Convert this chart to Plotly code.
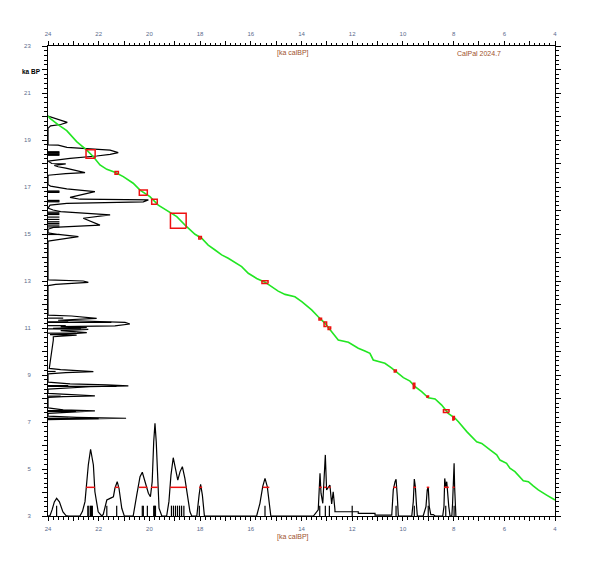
import plotly.graph_objects as go

# ---------------- data (ka) ----------------
# calibration curve: cal BP (x) vs 14C BP (y)
curve_cal = [24.00, 23.92, 23.59, 23.26, 22.87, 22.47, 22.21, 21.95, 21.68, 21.36, 21.03, 20.64,
             20.37, 19.98, 19.65, 19.32, 18.92, 18.53, 18.20, 17.94, 17.68, 17.41, 17.15, 16.89,
             16.62, 16.36, 16.10, 15.77, 15.44, 15.18, 14.92, 14.65, 14.26, 13.99, 13.60, 13.34,
             13.07, 12.81, 12.55, 12.15, 11.76, 11.50, 11.30, 11.17, 10.97, 10.71, 10.44, 10.18,
             9.98, 9.72, 9.52, 9.26, 9.00, 8.73, 8.47, 8.21, 7.94, 7.81, 7.48, 7.09, 6.89, 6.56,
             6.30, 6.17, 5.91, 5.78, 5.58, 5.25, 5.05, 4.86, 4.66, 4.33, 4.00]
curve_c14 = [20.02, 19.92, 19.64, 19.40, 18.93, 18.57, 18.29, 17.94, 17.75, 17.63, 17.44, 17.16,
             16.87, 16.59, 16.23, 16.02, 15.74, 15.31, 14.99, 14.82, 14.53, 14.32, 14.11, 13.97,
             13.80, 13.61, 13.33, 13.11, 12.95, 12.76, 12.57, 12.43, 12.33, 12.12, 11.77, 11.48,
             11.20, 10.84, 10.49, 10.39, 10.14, 10.02, 9.92, 9.64, 9.57, 9.50, 9.29, 9.07,
             8.89, 8.74, 8.50, 8.29, 8.03, 7.98, 7.72, 7.37, 7.16, 7.01, 6.59, 6.16, 6.09, 5.81,
             5.60, 5.38, 5.24, 5.03, 4.89, 4.50, 4.46, 4.28, 4.11, 3.89, 3.68]

# dated samples: cal centre, 14C centre, cal half-range, 14C half-range
date_cal = [22.32, 21.29, 20.24, 19.80, 18.86, 18.00, 15.44, 13.26, 13.06, 12.90, 10.30, 9.56, 9.02, 8.29, 8.00]
date_c14 = [18.40, 17.60, 16.76, 16.37, 15.56, 14.84, 12.95, 11.38, 11.16, 10.99, 9.17, 8.54, 8.08, 7.46, 7.16]
date_dcal = [0.18, 0.066, 0.158, 0.11, 0.31, 0.05, 0.12, 0.05, 0.05, 0.05, 0.04, 0.03, 0.03, 0.11, 0.03]
date_dc14 = [0.18, 0.055, 0.113, 0.106, 0.32, 0.05, 0.06, 0.04, 0.10, 0.05, 0.04, 0.11, 0.03, 0.06, 0.07]

# 14C probability sum (left side), drawn from the x=24 baseline
c14sum_x = [24.0, 23.7, 23.24, 23.5, 23.9, 24.0, 24.0, 23.6, 23.25, 21.55, 21.23, 21.55, 22.08, 23.13,
            23.8, 24.0, 23.85, 23.3, 23.75, 23.6, 23.3, 22.54, 23.3, 24.0, 24.0, 23.9, 23.26, 22.15,
            23.13, 22.74, 20.04, 20.24, 23.26, 23.92, 24.0, 23.8, 23.5, 21.55, 22.61, 21.95, 23.79,
            24.0, 24.0, 23.6, 22.80, 23.7, 24.0, 24.0, 22.61, 22.41, 23.7, 24.0, 24.0, 23.07, 22.08,
            23.6, 20.96, 20.77, 21.36, 23.5, 22.47, 23.8, 22.41, 23.5, 22.47, 22.87, 23.92, 22.87,
            23.79, 23.79, 23.85, 23.92, 23.95, 23.5, 22.21, 23.3, 24.0, 24.0, 23.13, 21.68, 20.83,
            22.34, 23.8, 24.0, 24.0, 22.5, 22.15, 23.4, 24.0, 24.0, 23.4, 22.15, 23.5, 24.0, 24.0,
            22.87, 20.92, 23.8, 24.0]
c14sum_y = [20.02, 19.9, 19.75, 19.66, 19.6, 19.5, 18.79, 18.78, 18.69, 18.57, 18.46, 18.39, 18.32, 18.22,
            18.15, 18.1, 18.0, 17.98, 17.92, 17.86, 17.80, 17.61, 17.57, 17.5, 17.1, 17.04, 16.92, 16.80,
            16.56, 16.48, 16.45, 16.37, 16.30, 16.23, 16.1, 16.02, 15.95, 15.81, 15.67, 15.38, 15.28,
            15.2, 15.05, 14.98, 14.89, 14.76, 14.7, 13.05, 13.0, 12.94, 12.86, 12.8, 11.55, 11.51, 11.41,
            11.33, 11.24, 11.17, 11.09, 11.06, 11.03, 10.98, 10.94, 10.89, 10.80, 10.77, 10.72, 10.70,
            10.63, 10.49, 10.0, 9.6, 9.28, 9.23, 9.14, 9.10, 9.05, 8.7, 8.62, 8.58, 8.54,
            8.50, 8.43, 8.4, 8.22, 8.14, 8.11, 8.08, 8.05, 7.6, 7.52, 7.47, 7.42, 7.37, 7.25,
            7.20, 7.16, 7.12, 7.10]

# individual 14C dates shown as short bars on the left
bar_c14 = [18.50, 18.47, 18.44, 18.41, 18.38, 18.35, 16.83, 16.80, 16.77, 16.43, 16.40, 16.37,
           15.93, 15.88, 15.83, 15.72, 15.62, 15.52, 15.45, 15.38, 15.30, 14.98,
           11.42, 11.26, 11.24, 11.10, 10.96, 10.78, 9.15, 8.55, 8.52, 8.10, 7.48, 7.45, 7.16, 7.14]
bar_end = [23.55] * 22 + [23.4, 23.2, 21.5, 23.3, 22.7, 22.9, 23.7, 23.2, 21.3, 23.5, 22.6, 22.9, 23.2, 22.0]

# calibrated probability sum (bottom), drawn from the y=3 baseline
calsum_x = [24.0, 23.92, 23.84, 23.75, 23.66, 23.55, 23.41, 23.29, 23.2,
            22.74, 22.64, 22.54, 22.41, 22.32, 22.21, 22.15, 22.02, 21.88,
            21.82, 21.68, 21.55, 21.42, 21.36, 21.27, 21.20, 21.09, 20.99,
            20.64, 20.50, 20.37, 20.28, 20.17, 20.04, 19.96, 19.89, 19.83, 19.78, 19.73, 19.67, 19.62, 19.51,
            19.32, 19.23, 19.15, 19.06, 18.96, 18.88, 18.79, 18.70, 18.60, 18.49, 18.40, 18.33,
            18.13, 18.04, 17.98, 17.91, 17.83,
            15.77, 15.64, 15.53, 15.44, 15.35, 15.27, 15.21,
            13.53, 13.34, 13.27, 13.23, 13.16, 13.11, 13.06, 13.01, 12.94, 12.88, 12.81, 12.75, 12.68,
            12.68, 11.76, 11.76, 11.10, 11.10, 10.44,
            10.38, 10.31, 10.27, 10.22, 10.18,
            9.65, 9.59, 9.55, 9.51, 9.46, 9.43,
            9.20, 9.09, 9.04, 9.00, 8.96, 8.90, 8.80, 8.73,
            8.43, 8.38, 8.35, 8.31, 8.27, 8.23, 8.19, 8.14, 8.07, 8.04, 8.01, 7.98, 7.96, 7.93, 7.91]
calsum_y = [3.0, 3.02, 3.26, 3.6, 3.75, 3.6, 3.17, 3.02, 3.0,
            3.0, 3.2, 3.61, 5.17, 5.84, 5.17, 4.03, 3.18, 3.0,
            3.07, 3.68, 3.75, 3.82, 4.18, 4.46, 4.18, 3.33, 3.0,
            3.0, 3.89, 4.67, 4.86, 4.46, 3.97, 3.82, 4.46, 6.16, 6.94, 6.16, 4.46, 3.33, 3.0,
            3.0, 3.61, 4.74, 5.48, 4.89, 4.53, 4.89, 5.10, 4.60, 3.75, 3.18, 3.0,
            3.0, 3.89, 4.35, 3.89, 3.0,
            3.0, 3.54, 4.25, 4.60, 4.25, 3.54, 3.0,
            3.0, 3.26, 4.82, 3.97, 3.54, 4.67, 5.60, 4.11, 4.25, 4.32, 3.51, 4.03, 3.26,
            3.18, 3.18, 3.11, 3.11, 3.04, 3.04,
            4.11, 4.46, 4.56, 3.82, 3.0,
            3.0, 3.61, 4.57, 4.25, 3.40, 3.0,
            3.0, 3.40, 4.11, 4.22, 3.40, 3.06, 3.06, 3.0,
            3.0, 3.40, 4.60, 4.25, 4.46, 3.68, 3.40, 3.0, 3.0, 3.54, 4.25, 5.24, 4.25, 3.26, 3.0]

# 68% ranges of calibrated dates (red) and medians (ticks)
range_lo = [22.50, 21.36, 20.41, 19.94, 19.19, 18.04, 15.53, 13.30, 13.11, 12.94, 10.38, 9.59, 9.06, 8.38, 8.04]
range_hi = [22.15, 21.20, 20.08, 19.67, 18.53, 17.92, 15.27, 13.20, 13.01, 12.85, 10.25, 9.48, 8.96, 8.19, 7.96]
range_level = 4.22
median_cal = [23.66, 22.43, 22.39, 22.32, 22.28, 22.25, 21.68, 21.29, 20.28, 20.24, 20.08,
              19.83, 19.80, 19.76, 19.13, 19.05, 18.97, 18.89, 18.81, 18.73, 18.64, 18.03,
              15.44, 13.28, 13.06, 12.90, 12.0, 10.27, 9.55, 9.00, 8.31, 7.98]
median_top = 3.44

x_ticks = list(range(4, 25))
x_text = [str(v) if v % 2 == 0 else "" for v in x_ticks]
y_ticks = list(range(3, 24))
y_text = [str(v) if v % 2 == 1 else "" for v in y_ticks]

# ---------------- figure ----------------
fig = go.Figure()

# left 14C sum
fig.add_trace(go.Scatter(x=c14sum_x, y=c14sum_y, mode="lines",
                         line=dict(color="black", width=1.2), hoverinfo="skip"))
bx, by = [], []
for yv, xe in zip(bar_c14, bar_end):
    bx += [24.0, xe, None]
    by += [yv, yv, None]
fig.add_trace(go.Scatter(x=bx, y=by, mode="lines", line=dict(color="black", width=1.2), hoverinfo="skip"))

# bottom calibrated sum
fig.add_trace(go.Scatter(x=calsum_x, y=calsum_y, mode="lines",
                         line=dict(color="black", width=1.2), hoverinfo="skip"))
mx, my = [], []
for xv in median_cal:
    mx += [xv, xv, None]
    my += [3.0, median_top, None]
fig.add_trace(go.Scatter(x=mx, y=my, mode="lines", line=dict(color="black", width=1.2), hoverinfo="skip"))
rx, ry = [], []
for a, b in zip(range_lo, range_hi):
    rx += [a, b, None]
    ry += [range_level, range_level, None]
fig.add_trace(go.Scatter(x=rx, y=ry, mode="lines", line=dict(color="#ee1111", width=1.5), hoverinfo="skip"))

# calibration curve
fig.add_trace(go.Scatter(x=curve_cal, y=curve_c14, mode="lines",
                         line=dict(color="#22e622", width=1.6), hoverinfo="skip"))

# date boxes
qx, qy = [], []
for cx, cy, dx, dy in zip(date_cal, date_c14, date_dcal, date_dc14):
    qx += [cx - dx, cx + dx, cx + dx, cx - dx, cx - dx, None]
    qy += [cy - dy, cy - dy, cy + dy, cy + dy, cy - dy, None]
fig.add_trace(go.Scatter(x=qx, y=qy, mode="lines", line=dict(color="#ee1111", width=1.5), hoverinfo="skip"))

# dummy trace for top axis
fig.add_trace(go.Scatter(x=[24, 4], y=[3, 3], xaxis="x2", mode="lines",
                         line=dict(width=0), hoverinfo="skip", showlegend=False))

tickfont = dict(family="Liberation Sans, Arial, sans-serif", size=6, color="#5b6b8c")
common_x = dict(range=[24, 4], tickmode="array", tickvals=x_ticks, ticktext=x_text,
                ticks="outside", ticklen=4, tickwidth=1, tickcolor="black",
                showline=True, linecolor="black", linewidth=1, showgrid=False, zeroline=False,
                tickfont=tickfont,
                minor=dict(dtick=0.2, tick0=4, ticks="outside", ticklen=2.5, tickcolor="black", tickwidth=1,
                           showgrid=False))

fig.update_layout(
    width=589, height=547,
    margin=dict(l=40, r=42, t=38, b=39),
    paper_bgcolor="white", plot_bgcolor="white",
    showlegend=False,
    xaxis=dict(**common_x, side="bottom", ticklabelstandoff=3),
    xaxis2=dict(**common_x, side="top", overlaying="x", anchor="y", ticklabelstandoff=3),
    yaxis=dict(range=[3, 23], tickmode="array", tickvals=y_ticks, ticktext=y_text,
               ticks="outside", ticklen=5, tickwidth=1, tickcolor="black",
               showline=True, linecolor="black", linewidth=1, mirror="ticks",
               showgrid=False, zeroline=False, tickfont=tickfont, ticklabelstandoff=10,
               minor=dict(dtick=0.2, tick0=3, ticks="outside", ticklen=3, tickcolor="black",
                          tickwidth=1, showgrid=False)),
)

lab = dict(family="Liberation Sans, Arial, sans-serif", size=7, color="#a0522d")
fig.add_annotation(text="[ka calBP]", xref="paper", yref="paper", x=0.483, y=0.985,
                   showarrow=False, font=lab, xanchor="center", yanchor="middle")
fig.add_annotation(text="CalPal 2024.7", xref="paper", yref="paper", x=0.850, y=0.985,
                   showarrow=False, font=lab, xanchor="center", yanchor="middle")
fig.add_annotation(text="[ka calBP]", xref="paper", yref="paper", x=0.483, y=-0.045,
                   showarrow=False, font=lab, xanchor="center", yanchor="middle")
fig.add_annotation(text="<b>ka BP</b>", xref="paper", yref="paper", x=-0.032, y=0.945,
                   showarrow=False, font=dict(family="Liberation Sans, Arial, sans-serif", size=6.5, color="black"),
                   xanchor="center", yanchor="middle")

fig.write_html("out.html")
